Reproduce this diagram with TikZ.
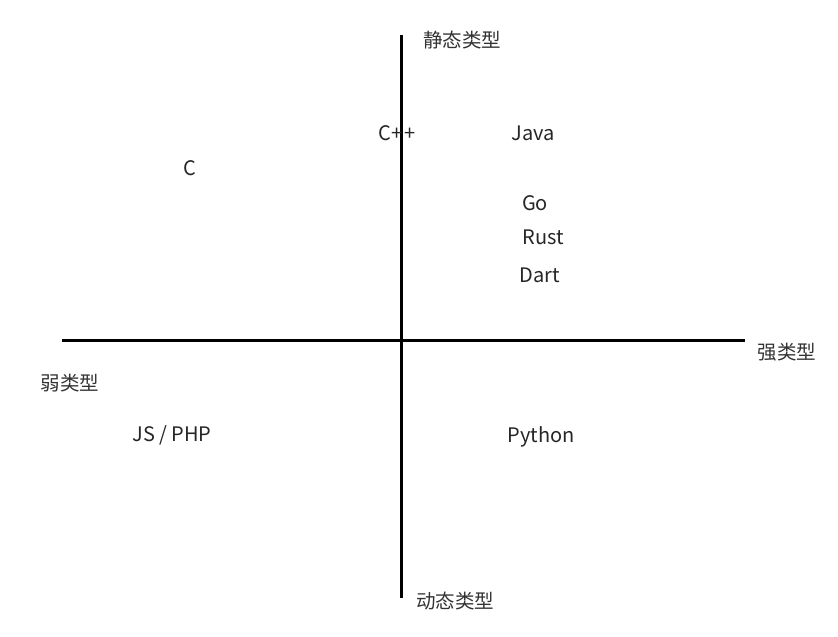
\documentclass[tikz,border=0pt]{standalone}
\usepackage{fontspec}
\newfontfamily\cjk{Noto Sans CJK SC}
\usetikzlibrary{positioning}

\begin{document}
\begin{tikzpicture}[
    x=1pt, y=-1pt,
    axis/.style={line width=3pt, black},
    lang/.style={font=\cjk\fontsize{20}{22}\selectfont, text=black!85, inner sep=0pt},
    axislabel/.style={font=\cjk\fontsize{19.5}{22}\selectfont, text=black!80, inner sep=0pt}
]
\useasboundingbox (0,0) rectangle (838,637);

% Axes
\coordinate (top) at (401,35);
\coordinate (bottom) at (401,598);
\coordinate (left) at (62,340);
\coordinate (right) at (745,340);
\draw[axis] (left) -- (right);
\draw[axis] (top) -- (bottom);

% Axis labels
\node[axislabel] (static) at (462,40) {静态类型};
\node[axislabel] (dynamic) at (455,601) {动态类型};
\node[axislabel] (strong) at (787,352) {强类型};
\node[axislabel] (weak) at (70,383) {弱类型};

% Languages
\node[lang] (cpp) at (397,133) {C+\kern2pt+};
\node[lang] (java) at (533,133) {Java};
\node[lang] (c) at (190,168) {C};
\node[lang] (go) at (535,203) {Go};
\node[lang] (rust) at (543,237) {Rust};
\node[lang] (dart) at (540,275) {Dart};
\node[lang] (jsphp) at (172,435) {JS / PHP};
\node[lang] (python) at (541,437) {Python};

\end{tikzpicture}
\end{document}
